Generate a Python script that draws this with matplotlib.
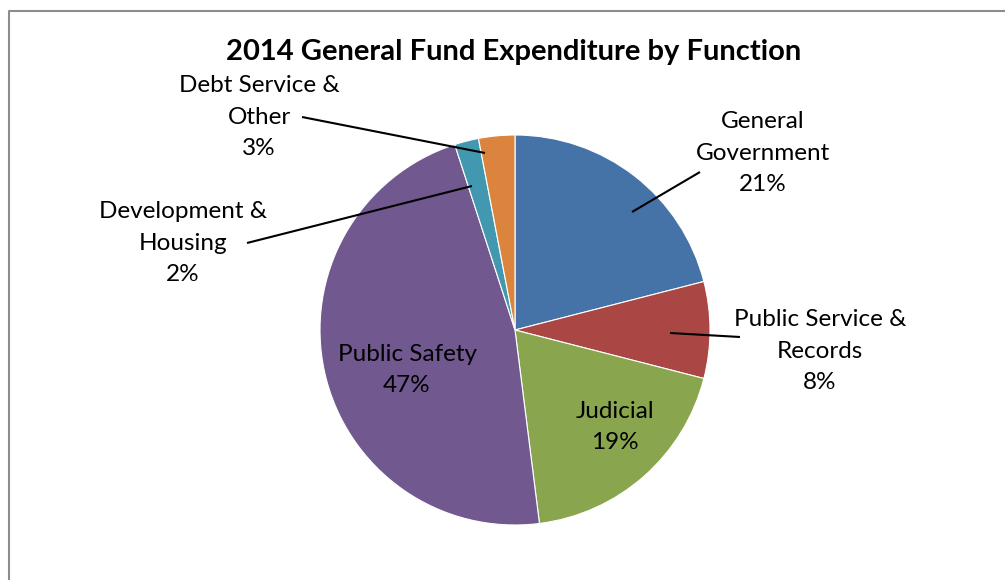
import numpy as np
import matplotlib.pyplot as plt

# 2014 general fund expenditure shares (%), clockwise from 12 o'clock
functions = ["General\nGovernment", "Public Service &\nRecords", "Judicial",
             "Public Safety", "Development &\nHousing", "Debt Service &\nOther"]
shares = [21, 8, 19, 47, 2, 3]
colors = ["#4572A7", "#AA4643", "#89A54E", "#71588F", "#4198AF", "#DB843D"]

# label centres (pixels from top-left) and leader lines: text end -> pie end
label_xy = [(763, 153), (820, 351), (615, 427), (407, 370), (183, 243), (259, 117)]
leader_start = [(700, 172), (740, 337), None, None, (247, 243), (302, 117)]
leader_end = [(632, 212), (670, 333), None, None, (472, 186), (485, 153)]

W, H = 1005, 580
plt.rcParams['font.family'] = ['Lato', 'DejaVu Sans']

fig = plt.figure(figsize=(W / 100, H / 100), dpi=100)
ax = fig.add_axes([0, 0, 1, 1])

cx, cy, R = 515, H - 330, 195
ax.pie(shares, colors=colors, startangle=90, counterclock=False,
       center=(cx, cy), radius=R, frame=True,
       wedgeprops=dict(edgecolor='white', linewidth=0.8))
ax.set_xlim(0, W)
ax.set_ylim(0, H)
ax.set_aspect('equal')
ax.axis('off')

for name, val, (lx, ly), start, end in zip(functions, shares, label_xy,
                                           leader_start, leader_end):
    ax.text(lx, H - ly, f"{name}\n{val}%", ha='center', va='center',
            fontsize=17.5, linespacing=1.6, color='black')
    if end is not None:
        ax.plot([start[0], end[0]], [H - start[1], H - end[1]],
                color='black', lw=1.5, solid_capstyle='butt')

ax.text(514, H - 52, "2014 General Fund Expenditure by Function",
        ha='center', va='center', fontsize=21, fontweight='bold')

# chart area border (only the top and left edges fall inside the frame)
ax.plot([9, 9, W], [0, H - 11, H - 11], color='#8C8C8C', lw=1.5)

fig.savefig('out.png', dpi=100)
